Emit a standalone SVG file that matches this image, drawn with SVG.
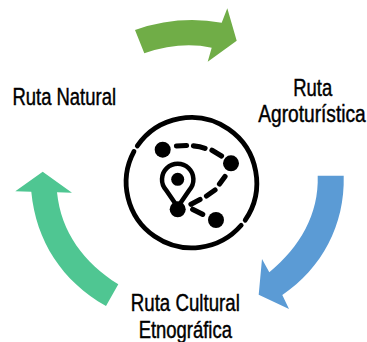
<svg xmlns="http://www.w3.org/2000/svg" width="367" height="342" viewBox="0 0 367 342">
<style>
.t{font-family:"Liberation Sans",Arial,sans-serif;font-size:23.500px;fill:#000;stroke:#000;stroke-width:.45}
.k{fill:none;stroke:#000;stroke-linecap:round}
.d{fill:#000}
</style>
<rect width="367" height="342" fill="#fff"/>
<g id="connectors">
<path id="arrow-top" fill="#70ad47" d="M135 30Q178 15 221.700 22.700L227.300 8.300L236.700 40.700L207.700 61.700L211.700 47.700Q180 41 144.300 53.300Z"/>
<path id="arrow-right" fill="#5b9bd5" d="M317.700 175.700H343.700C345 225 322 268 282.300 295L289 309L258.700 294.700L262 259L269.300 272.300C300 247 319 214 317.700 175.700Z"/>
<path id="arrow-left" fill="#4fc692" d="M42.700 171.700L72 192.700L57 192.300C61 232 84 263 118.300 284.300L106 306C62 281 36 241 31.300 191.700L15.300 191.300Z"/>
</g>
<g id="icon">
<path class="k" stroke-width="4.800" d="M134 151.400A65.500 65.500 0 0 0 241.200 225.300M245.200 220.200A65.500 65.500 0 0 0 137.300 145.900"/>
<g class="k" stroke-width="5.200">
<path d="M176.500 146L186.500 145.500M193.500 145.800Q200 146.300 205 148.300M212 150.300L221.500 156M225 176.500L219.500 184M215 190L206.500 196M200 199.500L191 204.300M192.700 209.300L202.700 214.300"/>
</g>
<path class="k" stroke-width="4.500" d="M177.700 207L166 190A15.700 15.700 0 1 1 189.400 190Z"/>
<circle class="d" cx="162.700" cy="149.700" r="8"/>
<circle class="d" cx="231" cy="163.300" r="8"/>
<circle class="d" cx="216" cy="220" r="8"/>
<circle class="d" cx="177.700" cy="209.300" r="8"/>
<circle class="d" cx="177.700" cy="179.300" r="6.500"/>
</g>
<g id="ruta-natural"><text class="t" transform="translate(12.500 105) scale(.785 1)">Ruta Natural</text></g>
<g id="ruta-agro"><text class="t" text-anchor="middle" transform="translate(312.700 96) scale(.785 1)">Ruta</text><text class="t" text-anchor="middle" transform="translate(312 122) scale(.815 1)">Agroturística</text></g>
<g id="ruta-cultural"><text class="t" text-anchor="middle" transform="translate(185.300 311) scale(.795 1)">Ruta Cultural</text><text class="t" text-anchor="middle" transform="translate(185.300 337.500) scale(.785 1)">Etnográfica</text></g>
</svg>
